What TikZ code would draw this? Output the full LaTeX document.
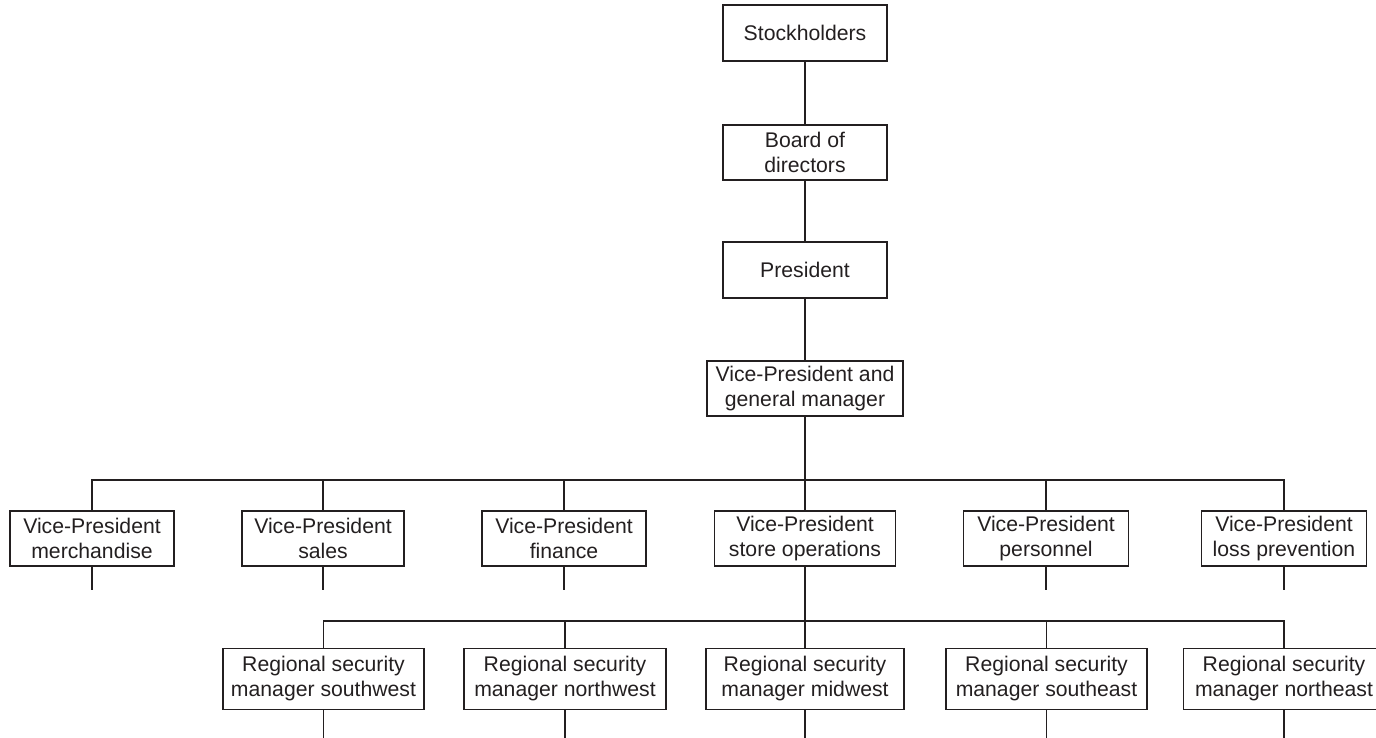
\documentclass[tikz,border=0pt]{standalone}
\usepackage{fontspec}
\setmainfont{Liberation Sans}
\definecolor{ink}{HTML}{231F20}
\begin{document}
\begin{tikzpicture}[x=1pt,y=-1pt,
  line width=1.3pt, draw=ink,
  orgbox/.style={draw=ink, line width=1.3pt, align=center, inner sep=0pt,
    text=ink, font=\fontsize{21.2}{25}\selectfont},
  conn/.style={draw=ink, line width=1.3pt}]
\useasboundingbox (0,0) rectangle (1376,738);
% top chain
\node[orgbox, minimum width=164pt, minimum height=56pt] (stock) at (805,33) {Stockholders};
\node[orgbox, minimum width=164pt, minimum height=55pt] (board) at (805,152.5) {Board of\\directors};
\node[orgbox, minimum width=164pt, minimum height=56pt] (pres) at (805,270) {President};
\node[orgbox, minimum width=196pt, minimum height=55pt] (vpgm) at (805,388.5) {Vice-President and\\general manager};
% VP row
\node[orgbox, minimum width=164pt, minimum height=55pt] (merch) at (92,538.5) {Vice-President\\merchandise};
\node[orgbox, minimum width=162pt, minimum height=55pt] (sales) at (323,538.5) {Vice-President\\sales};
\node[orgbox, minimum width=164pt, minimum height=55pt] (fin) at (564,538.5) {Vice-President\\finance};
\node[orgbox, minimum width=181pt, minimum height=55pt] (ops) at (805,538.5) {Vice-President\\store operations};
\node[orgbox, minimum width=165pt, minimum height=55pt] (pers) at (1046,538.5) {Vice-President\\personnel};
\node[orgbox, minimum width=165pt, minimum height=55pt] (loss) at (1284,538.5) {Vice-President\\loss prevention};
% regional row
\node[orgbox, minimum width=201pt, minimum height=61pt] (sw) at (323.5,679) {Regional security\\manager southwest};
\node[orgbox, minimum width=202pt, minimum height=61pt] (nw) at (565,679) {Regional security\\manager northwest};
\node[orgbox, minimum width=198pt, minimum height=61pt] (mw) at (805,679) {Regional security\\manager midwest};
\node[orgbox, minimum width=201pt, minimum height=61pt] (se) at (1046.5,679) {Regional security\\manager southeast};
\node[orgbox, minimum width=201pt, minimum height=61pt] (ne) at (1284,679) {Regional security\\manager northeast};
% bus coordinates
\coordinate (bus1) at (805,480);
\coordinate (bus2) at (805,621);
% connectors
\draw[conn] (stock.south) -- (board.north);
\draw[conn] (board.south) -- (pres.north);
\draw[conn] (pres.south) -- (vpgm.north);
\draw[conn] (vpgm.south) -- (ops.north);
\foreach \n in {merch,sales,fin,pers,loss}{
  \draw[conn] (\n.north) |- (bus1);
  \draw[conn] (\n.south) -- ++(0,23);
}
\draw[conn] (ops.south) -- (mw.north);
\foreach \n in {sw,nw,se,ne}{
  \draw[conn] (\n.north) |- (bus2);
}
\foreach \n in {sw,nw,mw,se,ne}{
  \draw[conn] (\n.south) -- ++(0,30);
}
\end{tikzpicture}
\end{document}
